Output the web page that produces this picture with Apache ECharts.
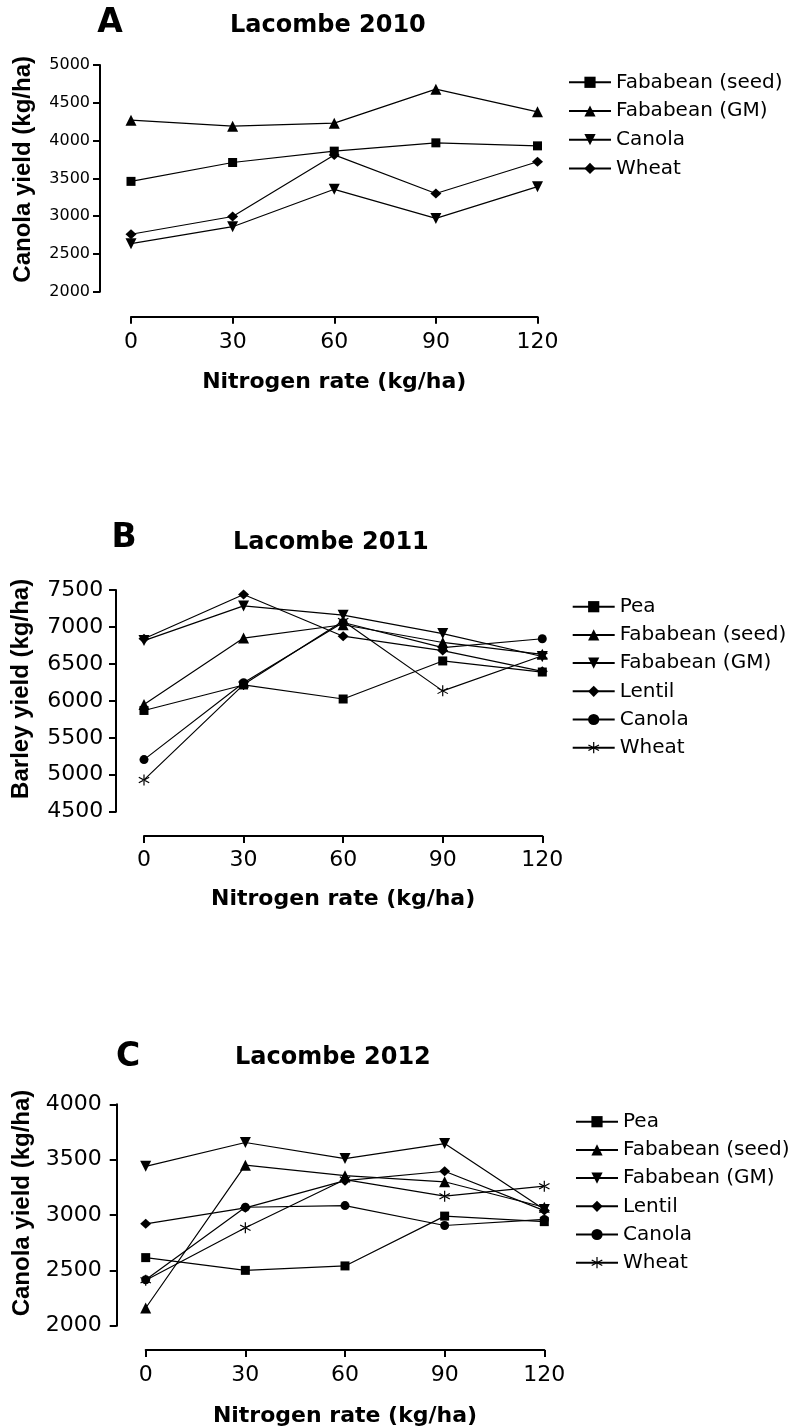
<!DOCTYPE html>
<html><head><meta charset="utf-8">
<script src="https://cdn.jsdelivr.net/npm/echarts@6/dist/echarts.min.js"></script>
<style>
html,body{margin:0;padding:0;background:#fff;}
.p{position:absolute;left:0;width:795px;height:476px;}
</style>
</head><body>
<div id="pa" class="p" style="top:0px"></div>
<div id="pb" class="p" style="top:476px"></div>
<div id="pc" class="p" style="top:952px"></div>
<script>
// ---- data ----
const nRates = [0, 30, 60, 90, 120];
const xTicks = [0, 30, 60, 90, 120];

// Panel A: Lacombe 2010, canola yield (kg/ha)
const a_fababeanSeed = [3460, 3710, 3860, 3970, 3930];
const a_fababeanGM   = [4270, 4190, 4230, 4680, 4380];
const a_canola       = [2635, 2860, 3355, 2970, 3390];
const a_wheat        = [2760, 2995, 3810, 3300, 3720];
const a_yTicks = [2000, 2500, 3000, 3500, 4000, 4500, 5000];

// Panel B: Lacombe 2011, barley yield (kg/ha)
const b_pea          = [5870, 6215, 6025, 6540, 6390];
const b_fababeanSeed = [5950, 6850, 7030, 6790, 6630];
const b_fababeanGM   = [6815, 7285, 7160, 6910, 6600];
const b_lentil       = [6840, 7440, 6875, 6680, 6400];
const b_canola       = [5205, 6245, 7060, 6720, 6840];
const b_wheat        = [4930, 6220, 7080, 6135, 6610];
const b_yTicks = [4500, 5000, 5500, 6000, 6500, 7000, 7500];

// Panel C: Lacombe 2012, canola yield (kg/ha)
const c_pea          = [2615, 2500, 2540, 2990, 2940];
const c_fababeanSeed = [2160, 3450, 3355, 3300, 3070];
const c_fababeanGM   = [3440, 3655, 3510, 3645, 3050];
const c_lentil       = [2920, 3065, 3310, 3395, 3040];
const c_canola       = [2415, 3070, 3085, 2905, 2960];
const c_wheat        = [2410, 2885, 3320, 3170, 3260];
const c_yTicks = [2000, 2500, 3000, 3500, 4000];

// ---- symbols ----
const SYM_DOWN = 'path://M0 0L20 0L10 20Z';
const SYM_STAR = 'path://M9 0L11 0L11 20L9 20Z M0.84 5.866L1.84 4.134L19.16 14.134L18.16 15.866Z M0.84 14.134L1.84 15.866L19.16 5.866L18.16 4.134Z';
const SYMS = {
  rect: {symbol: 'rect', size: 9},
  tri: {symbol: 'triangle', size: 11},
  down: {symbol: SYM_DOWN, size: 11},
  diamond: {symbol: 'diamond', size: [11, 10]},
  circle: {symbol: 'circle', size: 9},
  star: {symbol: SYM_STAR, size: 11}
};

const FONT = 'DejaVu Sans';

function mkSeries(name, vals, symKey) {
  const s = SYMS[symKey];
  return {
    type: 'line', name: name,
    data: nRates.map((x, i) => [x, vals[i]]),
    symbol: s.symbol, symbolSize: s.size,
    showAllSymbol: true,
    lineStyle: {color: '#000', width: 1.2},
    itemStyle: {color: '#000'},
    emphasis: {disabled: true}
  };
}

function panelOption(p) {
  return {
    animation: false,
    backgroundColor: 'transparent',
    grid: {left: p.gridLeft, right: p.gridRight, top: p.gridTop, bottom: p.gridBottom},
    xAxis: {
      type: 'value', min: xTicks[0], max: xTicks[xTicks.length - 1], interval: 30,
      offset: p.xOffset,
      axisLine: {show: true, onZero: false, lineStyle: {color: '#000', width: 2}},
      axisTick: {show: true, length: 7, lineStyle: {color: '#000', width: 2}},
      axisLabel: {color: '#000', fontFamily: FONT, fontSize: 22, margin: p.xLabelMargin,
        formatter: v => String(v)},
      splitLine: {show: false},
      name: 'Nitrogen rate (kg/ha)', nameLocation: 'middle', nameGap: p.xNameGap,
      nameTextStyle: {color: '#000', fontFamily: FONT, fontWeight: 'bold', fontSize: 22}
    },
    yAxis: {
      type: 'value', min: p.yTicks[0], max: p.yTicks[p.yTicks.length - 1], interval: 500,
      offset: p.yOffset,
      axisLine: {show: true, onZero: false, lineStyle: {color: '#000', width: 2}},
      axisTick: {show: true, length: 7, lineStyle: {color: '#000', width: 2}},
      axisLabel: {color: '#000', fontFamily: FONT, fontSize: p.yLabelSize, margin: p.yLabelMargin,
        formatter: v => String(v)},
      splitLine: {show: false},
      name: p.yName, nameLocation: 'middle', nameGap: p.yNameGap,
      nameTextStyle: {color: '#000', fontFamily: 'Liberation Sans', fontWeight: 'bold', fontSize: 24,
        padding: [0, 0, 0, p.yNameShift]}
    },
    legend: {
      orient: 'vertical', left: p.legendLeft, top: p.legendTop,
      itemWidth: 42, itemHeight: 14, itemGap: p.legendGap,
      selectedMode: false, padding: 0,
      textStyle: {color: '#000', fontFamily: FONT, fontSize: 20},
      data: p.series.map(s => s.name)
    },
    graphic: [
      {type: 'text', x: p.letterX, y: p.letterY,
        style: {text: p.letter, fill: '#000', fontFamily: FONT, fontWeight: 'bold', fontSize: 33,
          textAlign: 'center', textVerticalAlign: 'middle', align: 'center', verticalAlign: 'middle'}},
      {type: 'text', x: p.titleX, y: p.titleY,
        style: {text: p.title, fill: '#000', fontFamily: FONT, fontWeight: 'bold', fontSize: 24,
          textAlign: 'left', textVerticalAlign: 'middle', align: 'left', verticalAlign: 'middle'}}
    ],
    series: p.series
  };
}

const panels = [
  {el: 'pa', letter: 'A', title: 'Lacombe 2010', letterX: 110, letterY: 23, titleX: 230, titleY: 26,
   gridLeft: 131, gridRight: 257.5, gridTop: 65, gridBottom: 184.3,
   xOffset: 25, xLabelMargin: 15, xNameGap: 55,
   yTicks: a_yTicks, yOffset: 31, yLabelSize: 16, yLabelMargin: 10,
   yName: 'Canola yield (kg/ha)', yNameGap: 65, yNameShift: 18,
   legendLeft: 568, legendTop: 72.3, legendGap: 8.7,
   series: [
     mkSeries('Fababean (seed)', a_fababeanSeed, 'rect'),
     mkSeries('Fababean (GM)', a_fababeanGM, 'tri'),
     mkSeries('Canola', a_canola, 'down'),
     mkSeries('Wheat', a_wheat, 'diamond')
   ]},
  {el: 'pb', letter: 'B', title: 'Lacombe 2011', letterX: 124, letterY: 62, titleX: 233, titleY: 67,
   gridLeft: 144, gridRight: 252.7, gridTop: 114, gridBottom: 140.3,
   xOffset: 24.3, xLabelMargin: 13, xNameGap: 52,
   yTicks: b_yTicks, yOffset: 28, yLabelSize: 22, yLabelMargin: 12.7,
   yName: 'Barley yield (kg/ha)', yNameGap: 83, yNameShift: 24,
   legendLeft: 571.7, legendTop: 120.7, legendGap: 8.2,
   series: [
     mkSeries('Pea', b_pea, 'rect'),
     mkSeries('Fababean (seed)', b_fababeanSeed, 'tri'),
     mkSeries('Fababean (GM)', b_fababeanGM, 'down'),
     mkSeries('Lentil', b_lentil, 'diamond'),
     mkSeries('Canola', b_canola, 'circle'),
     mkSeries('Wheat', b_wheat, 'star')
   ]},
  {el: 'pc', letter: 'C', title: 'Lacombe 2012', letterX: 128, letterY: 105, titleX: 235, titleY: 106,
   gridLeft: 145.7, gridRight: 250.7, gridTop: 152.3, gridBottom: 100,
   xOffset: 24.3, xLabelMargin: 14, xNameGap: 55,
   yTicks: c_yTicks, yOffset: 29, yLabelSize: 22, yLabelMargin: 15,
   yName: 'Canola yield (kg/ha)', yNameGap: 82, yNameShift: 24,
   legendLeft: 575, legendTop: 159.7, legendGap: 8.2,
   series: [
     mkSeries('Pea', c_pea, 'rect'),
     mkSeries('Fababean (seed)', c_fababeanSeed, 'tri'),
     mkSeries('Fababean (GM)', c_fababeanGM, 'down'),
     mkSeries('Lentil', c_lentil, 'diamond'),
     mkSeries('Canola', c_canola, 'circle'),
     mkSeries('Wheat', c_wheat, 'star')
   ]}
];

panels.forEach(p => {
  const chart = echarts.init(document.getElementById(p.el), null, {renderer: 'canvas'});
  chart.setOption(panelOption(p));
});
</script>
</body></html>
